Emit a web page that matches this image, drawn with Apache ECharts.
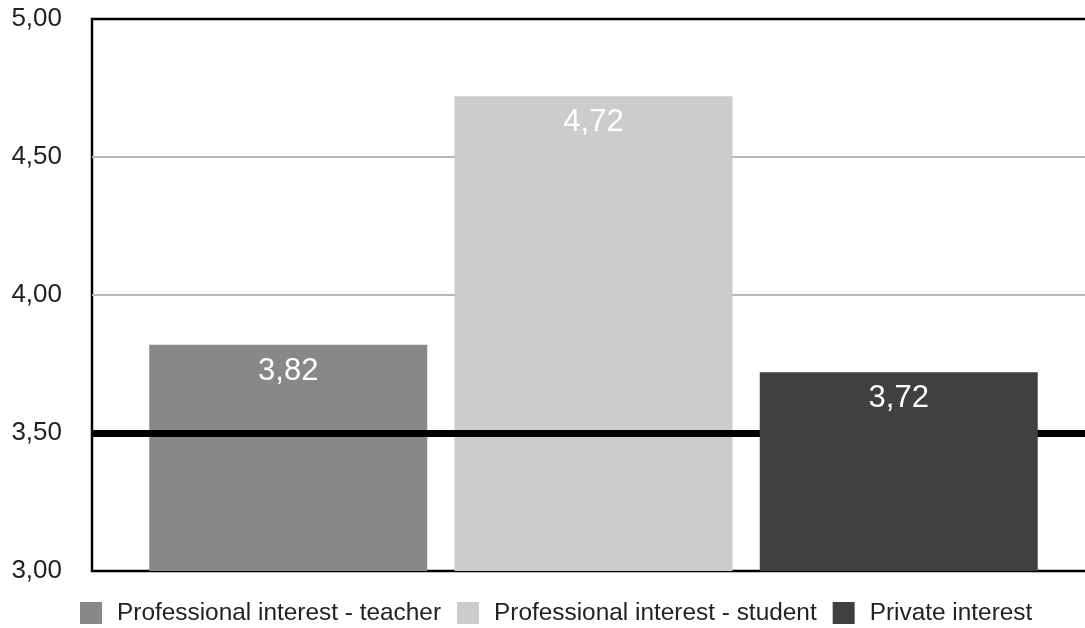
<!DOCTYPE html>
<html>
<head>
<meta charset="utf-8">
<script src="https://cdn.jsdelivr.net/npm/echarts@6/dist/echarts.min.js"></script>
<style>
  html, body { margin: 0; padding: 0; background: #fff; }
  #chart { width: 1085px; height: 628px; }
</style>
</head>
<body>
<div id="chart"></div>
<script>
// Mean interest ratings per group
const seriesNames = ['Professional interest - teacher', 'Professional interest - student', 'Private interest'];
const seriesValues = [3.82, 4.72, 3.72];
const seriesColors = ['#888888', '#cccccc', '#404040'];
const referenceValue = 3.5;
const yTicks = { min: 3, max: 5, step: 0.5 };

const font = '"Liberation Sans", Arial, Helvetica, sans-serif';
const fmt = v => v.toFixed(2).replace('.', ',');

const series = seriesNames.map((name, i) => ({
  name,
  type: 'bar',
  data: [seriesValues[i]],
  barWidth: 278,
  barGap: '9.8%',
  itemStyle: { color: seriesColors[i] },
  label: {
    show: true,
    position: 'insideTop',
    distance: 11,
    color: '#fff',
    fontSize: 31,
    fontFamily: font,
    formatter: p => fmt(p.value)
  }
}));

// Threshold line at the scale midpoint
series[series.length - 1].z = 5;
series[series.length - 1].markLine = {
  silent: true,
  symbol: 'none',
  label: { show: false },
  lineStyle: { color: '#000', width: 7, type: 'solid' },
  data: [{ yAxis: referenceValue }]
};

const chart = echarts.init(document.getElementById('chart'));
chart.setOption({
  animation: false,
  backgroundColor: '#fff',
  grid: {
    left: 92, right: -10, top: 19, bottom: 57,
    outerBoundsMode: 'none',
    show: true, borderColor: '#000', borderWidth: 2.5, backgroundColor: 'transparent'
  },
  legend: {
    bottom: -2,
    left: 75,
    height: 36,
    itemWidth: 22,
    itemHeight: 22,
    itemGap: 16,
    icon: 'rect',
    textStyle: { fontSize: 24.4, color: '#222', fontFamily: font, padding: [0, 0, 0, 10] },
    data: seriesNames
  },
  xAxis: {
    type: 'category',
    data: [''],
    axisLine: { show: false },
    axisTick: { show: false },
    axisLabel: { show: false }
  },
  yAxis: {
    type: 'value',
    min: yTicks.min,
    max: yTicks.max,
    interval: yTicks.step,
    axisLine: { show: false },
    axisTick: { show: false },
    axisLabel: {
      fontSize: 26,
      color: '#222',
      fontFamily: font,
      margin: 30,
      formatter: v => fmt(v)
    },
    splitLine: {
      showMinLine: false,
      showMaxLine: false,
      lineStyle: { color: '#b8b8b8', width: 2 }
    }
  },
  series
});
</script>
</body>
</html>
